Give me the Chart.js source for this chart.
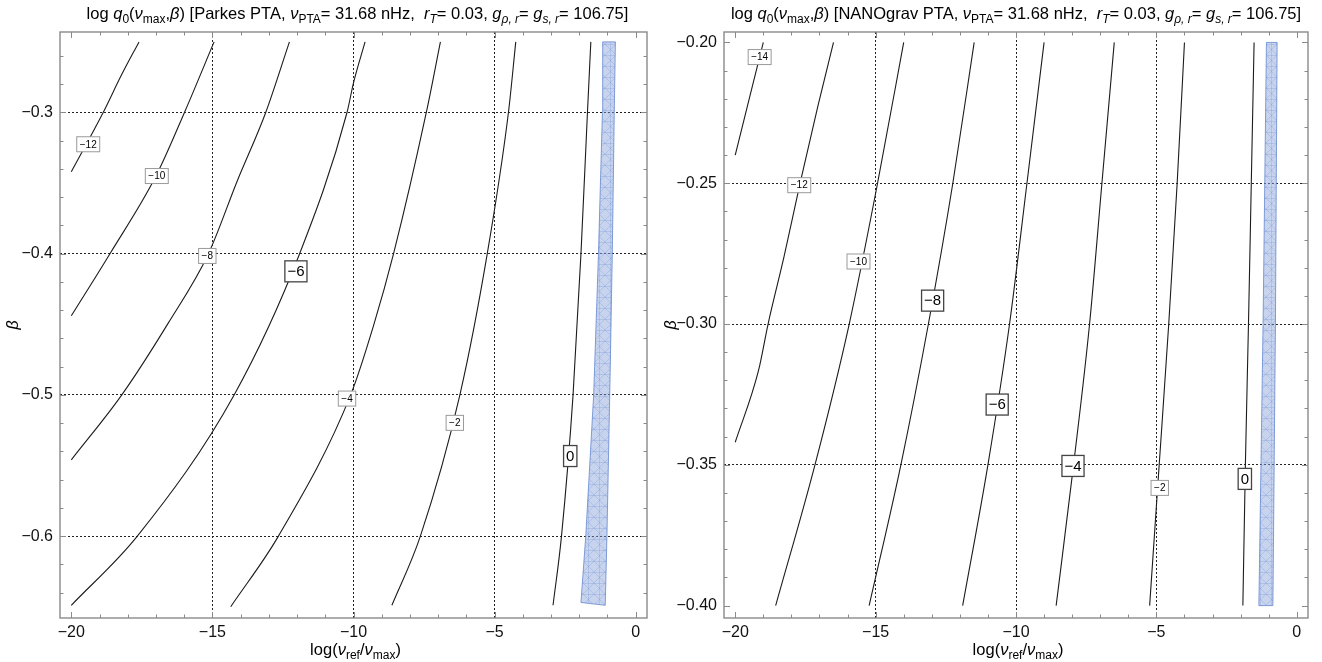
<!DOCTYPE html>
<html>
<head>
<meta charset="utf-8">
<script src="https://cdn.jsdelivr.net/npm/chart.js@4.4.1/dist/chart.umd.min.js"></script>
<style>
    html, body { margin: 0; padding: 0; background: #fff; }
    .panel { position: absolute; top: 0; width: 661px; height: 662px; }
    #left { left: 0; }
    #right { left: 661px; }
</style>
</head>
<body>
<div class="panel" id="left"><canvas id="parkes"></canvas></div>
<div class="panel" id="right"><canvas id="nanograv"></canvas></div>
<script>
// values, points are [log(vref/vmax), beta]
var xTicks = [-20, -15, -10, -5, 0];
var xGrid = [-15, -10, -5];

// Parkes PTA panel
var parkesYTicks = [-0.6, -0.5, -0.4, -0.3];
var parkesYGrid = [-0.6, -0.5, -0.4, -0.3];
var parkesLevels = [-12, -10, -8, -6, -4, -2, 0];
var parkesM12 = [[-20, -0.342], [-18.87, -0.3], [-18.21, -0.273], [-17.6, -0.25]];
var parkesM10 = [[-20, -0.444], [-18.63, -0.4], [-17.0, -0.345], [-15.99, -0.3], [-14.94, -0.25]];
var parkesM8 = [[-20, -0.546], [-18.21, -0.5], [-16.56, -0.449], [-15.14, -0.4], [-14.13, -0.349], [-13.11, -0.3], [-12.27, -0.25]];
var parkesM6 = [[-20, -0.649], [-17.66, -0.6], [-14.23, -0.5], [-11.91, -0.4], [-10.23, -0.3], [-10.0, -0.279], [-9.59, -0.25]];
var parkesM4 = [[-14.35, -0.65], [-12.66, -0.6], [-10.1, -0.5], [-9.29, -0.451], [-8.58, -0.4], [-7.42, -0.3], [-6.92, -0.25]];
var parkesM2 = [[-8.64, -0.649], [-7.63, -0.6], [-6.23, -0.5], [-5.26, -0.4], [-4.51, -0.3], [-4.25, -0.25]];
var parkesZero = [[-2.93, -0.649], [-2.63, -0.6], [-2.22, -0.5], [-1.94, -0.4], [-1.71, -0.3], [-1.59, -0.25]];
var parkesBand = [[-1.17, -0.25], [-0.72, -0.25], [-0.76, -0.3], [-0.83, -0.4], [-0.92, -0.5], [-1.02, -0.6], [-1.08, -0.649],
                  [-1.94, -0.647], [-1.77, -0.6], [-1.49, -0.5], [-1.32, -0.4], [-1.18, -0.3], [-1.17, -0.25]];
var parkesLabelX = [-19.4, -16.97, -15.18, -12.04, -10.23, -6.41, -2.32];
var parkesLabelY = [-0.3225, -0.345, -0.4016, -0.4125, -0.5026, -0.5198, -0.5433];

// NANOGrav PTA panel
var nanoYTicks = [-0.40, -0.35, -0.30, -0.25, -0.20];
var nanoYGrid = [-0.35, -0.30, -0.25];
var nanoLevels = [-14, -12, -10, -8, -6, -4, -2, 0];
var nanoM14 = [[-20, -0.24], [-19.5, -0.22], [-19.0, -0.2]];
var nanoM12 = [[-20, -0.342], [-19.17, -0.3165], [-18.83, -0.30], [-18.26, -0.276], [-17.69, -0.25], [-17.05, -0.2224], [-16.5, -0.2]];
var nanoM10 = [[-18.56, -0.40], [-17.16, -0.35], [-15.94, -0.30], [-14.93, -0.25], [-14.0, -0.20]];
var nanoM8 = [[-15.23, -0.40], [-14.10, -0.35], [-13.12, -0.30], [-12.25, -0.25], [-11.49, -0.20]];
var nanoM6 = [[-11.90, -0.40], [-11.0, -0.35], [-10.23, -0.30], [-9.61, -0.25], [-9.0, -0.20]];
var nanoM4 = [[-8.57, -0.40], [-7.95, -0.35], [-7.38, -0.30], [-6.94, -0.25], [-6.50, -0.20]];
var nanoM2 = [[-5.24, -0.40], [-4.90, -0.35], [-4.56, -0.30], [-4.26, -0.25], [-4.0, -0.20]];
var nanoZero = [[-1.92, -0.40], [-1.83, -0.35], [-1.72, -0.30], [-1.62, -0.25], [-1.52, -0.20]];
var nanoBand = [[-1.08, -0.2], [-0.70, -0.2], [-0.76, -0.3], [-0.85, -0.4], [-1.35, -0.4], [-1.20, -0.3], [-1.08, -0.2]];
var nanoLabelX = [-19.13, -17.72, -15.61, -12.97, -10.67, -7.97, -4.88, -1.85];
var nanoLabelY = [-0.2052, -0.2507, -0.2778, -0.2917, -0.3286, -0.3504, -0.3582, -0.355];

var FONT = '"Liberation Sans", Arial, sans-serif';

function segFont(seg, size) {
    var st = seg[1] || '';
    var sz = st.indexOf('s') >= 0 ? Math.round(size * 0.7) : size;
    return (st.indexOf('i') >= 0 ? 'italic ' : '') + sz + 'px ' + FONT;
}

// draws text made of [text, style] pieces, style: i = italic, s = subscript
function drawRich(ctx, segs, x, y, size) {
    var total = 0;
    segs.forEach(function (s) {
        ctx.font = segFont(s, size);
        total += ctx.measureText(s[0]).width;
    });
    var cx = x - total / 2;
    ctx.textAlign = 'left';
    ctx.textBaseline = 'alphabetic';
    segs.forEach(function (s) {
        ctx.font = segFont(s, size);
        var dy = (s[1] || '').indexOf('s') >= 0 ? size * 0.27 : 0;
        ctx.fillText(s[0], cx, y + dy);
        cx += ctx.measureText(s[0]).width;
    });
}

function range(lo, hi, step) {
    var out = [];
    for (var v = lo; v <= hi + step / 10; v += step) out.push(Math.round(v * 1000) / 1000);
    return out;
}

function makeMesh() {
    var n = 11;
    var c = document.createElement('canvas');
    c.width = n;
    c.height = n;
    var g = c.getContext('2d');
    g.fillStyle = 'rgba(132,160,214,0.45)';
    g.fillRect(0, 0, n, n);
    g.strokeStyle = 'rgba(100,136,210,0.35)';
    g.lineWidth = 0.7;
    g.beginPath();
    g.moveTo(0, 0); g.lineTo(n, n);
    g.moveTo(n, 0); g.lineTo(0, n);
    g.moveTo(0, 0.5); g.lineTo(n, 0.5);
    g.moveTo(n / 2, 0); g.lineTo(n / 2, n);
    g.stroke();
    return g.createPattern(c, 'repeat');
}

var decorPlugin = {
    id: 'decor',
    afterDatasetsDraw: function (chart, args, opts) {
        var ctx = chart.ctx, xs = chart.scales.x, ys = chart.scales.y;
        ctx.save();
        opts.labelX.forEach(function (lx, i) {
            var level = opts.levels[i];
            var big = opts.big.indexOf(level) >= 0;
            var txt = level === 0 ? '0' : '\u2212' + Math.abs(level);
            var px = xs.getPixelForValue(lx), py = ys.getPixelForValue(opts.labelY[i]);
            ctx.font = (big ? 15 : 10) + 'px ' + FONT;
            var w = ctx.measureText(txt).width + (big ? 5 : 6);
            var h = big ? 21 : 15;
            ctx.fillStyle = '#fff';
            ctx.fillRect(px - w / 2, py - h / 2, w, h);
            ctx.lineWidth = big ? 1.3 : 1;
            ctx.strokeStyle = big ? '#444' : '#9a9a9a';
            ctx.strokeRect(px - w / 2, py - h / 2, w, h);
            ctx.fillStyle = '#000';
            ctx.textAlign = 'center';
            ctx.textBaseline = 'middle';
            ctx.fillText(txt, px, py + 0.5);
        });
        ctx.restore();
    },
    afterDraw: function (chart, args, opts) {
        var ctx = chart.ctx, a = chart.chartArea, xs = chart.scales.x, ys = chart.scales.y;
        ctx.save();
        // inward ticks on all four sides
        ctx.strokeStyle = '#8a8a8a';
        ctx.lineWidth = 1;
        ctx.beginPath();
        var tick = function (scale, values, len, horiz) {
            values.forEach(function (v) {
                var p = Math.round(scale.getPixelForValue(v)) + 0.5;
                if (horiz) {
                    ctx.moveTo(p, a.bottom); ctx.lineTo(p, a.bottom - len);
                    ctx.moveTo(p, a.top); ctx.lineTo(p, a.top + len);
                } else {
                    ctx.moveTo(a.left, p); ctx.lineTo(a.left + len, p);
                    ctx.moveTo(a.right, p); ctx.lineTo(a.right - len, p);
                }
            });
        };
        tick(xs, xTicks, 6, true);
        tick(xs, range(-20, 0, 1), 3.5, true);
        tick(ys, opts.yTicks, 6, false);
        tick(ys, range(opts.minorY[0], opts.minorY[1], opts.minorY[2]), 3.5, false);
        ctx.stroke();
        // frame
        ctx.strokeStyle = '#8a8a8a';
        ctx.lineWidth = 1.4;
        ctx.strokeRect(a.left, a.top, a.right - a.left, a.bottom - a.top);
        // titles
        ctx.fillStyle = '#000';
        var cx = (a.left + a.right) / 2;
        drawRich(ctx, opts.title, cx + opts.titleShift, 19, 16.5);
        drawRich(ctx, [['log('], ['\u03bd', 'i'], ['ref', 's'], ['/'], ['\u03bd', 'i'], ['max', 's'], [')']], cx + 2, 655, 16.5);
        ctx.translate(opts.betaX, (a.top + a.bottom) / 2);
        ctx.rotate(-Math.PI / 2);
        drawRich(ctx, [['\u03b2', 'i']], 0, 5, 16);
        ctx.restore();
    }
};

function fmtTick(digits) {
    return function (v) {
        var s = Number(v) === 0 ? '0' : Number(v).toFixed(digits);
        return s.replace('-', '\u2212');
    };
}

function makePanel(id, cfg) {
    var datasets = cfg.contours.map(function (c) {
        return {
            data: c.map(function (p) { return { x: p[0], y: p[1] }; }),
            showLine: true,
            borderColor: '#1c1c1c',
            borderWidth: 1.1,
            pointRadius: 0,
            fill: false,
            cubicInterpolationMode: 'monotone'
        };
    });
    datasets.unshift({
        data: cfg.band.map(function (p) { return { x: p[0], y: p[1] }; }),
        showLine: true,
        borderColor: 'rgba(100,135,208,0.8)',
        borderWidth: 1,
        backgroundColor: makeMesh(),
        fill: 'shape',
        pointRadius: 0,
        tension: 0
    });

    var tickFont = { family: FONT, size: 16 };
    return new Chart(document.getElementById(id), {
        type: 'scatter',
        data: { datasets: datasets },
        plugins: [decorPlugin],
        options: {
            responsive: true,
            maintainAspectRatio: false,
            animation: false,
            events: [],
            layout: { padding: { top: 32, right: 14, left: 0, bottom: 0 } },
            plugins: {
                legend: { display: false },
                tooltip: { enabled: false },
                decor: {
                    levels: cfg.levels,
                    labelX: cfg.labelX,
                    labelY: cfg.labelY,
                    big: cfg.big,
                    yTicks: cfg.yTicks,
                    minorY: cfg.minorY,
                    title: cfg.title,
                    titleShift: cfg.titleShift,
                    betaX: cfg.betaX
                }
            },
            scales: {
                x: {
                    type: 'linear',
                    min: -20.4,
                    max: 0.4,
                    afterBuildTicks: function (axis) {
                        axis.ticks = xTicks.map(function (v) { return { value: v }; });
                    },
                    afterFit: function (axis) { axis.height = 44; },
                    ticks: { callback: fmtTick(0), font: tickFont, color: '#111', padding: 5, autoSkip: false, maxRotation: 0 },
                    grid: {
                        drawTicks: false,
                        lineWidth: 1,
                        color: function (c) {
                            return c.tick && xGrid.indexOf(c.tick.value) >= 0 ? '#222' : 'rgba(0,0,0,0)';
                        }
                    },
                    border: { display: false, dash: [2, 2] }
                },
                y: {
                    type: 'linear',
                    min: cfg.yMin,
                    max: cfg.yMax,
                    afterBuildTicks: function (axis) {
                        axis.ticks = cfg.yTicks.map(function (v) { return { value: v }; });
                    },
                    afterFit: function (axis) { axis.width = cfg.yWidth; },
                    ticks: { callback: fmtTick(cfg.digits), font: tickFont, color: '#111', padding: 7, autoSkip: false },
                    grid: {
                        drawTicks: false,
                        lineWidth: 1,
                        color: function (c) {
                            return c.tick && cfg.yGrid.indexOf(c.tick.value) >= 0 ? '#222' : 'rgba(0,0,0,0)';
                        }
                    },
                    border: { display: false, dash: [2, 2] }
                }
            }
        }
    });
}

var parkesChart = makePanel('parkes', {
    contours: [parkesM12, parkesM10, parkesM8, parkesM6, parkesM4, parkesM2, parkesZero],
    band: parkesBand,
    levels: parkesLevels,
    labelX: parkesLabelX,
    labelY: parkesLabelY,
    big: [-6, 0],
    yTicks: parkesYTicks,
    yGrid: parkesYGrid,
    yMin: -0.658,
    yMax: -0.243,
    minorY: [-0.64, -0.26, 0.02],
    digits: 1,
    yWidth: 60,
    betaX: 13,
    titleShift: 4,
    title: [['log '], ['q', 'i'], ['0', 's'], ['('], ['\u03bd', 'i'], ['max', 's'], [','], ['\u03b2', 'i'],
            [') [Parkes PTA, '], ['\u03bd', 'i'], ['PTA', 's'], ['= 31.68 nHz,  '], ['r', 'i'], ['T', 'is'],
            ['= 0.03, '], ['g', 'i'], ['\u03c1, r', 'is'], ['= '], ['g', 'i'], ['s, r', 'is'], ['= 106.75]']]
});

var nanoChart = makePanel('nanograv', {
    contours: [nanoM14, nanoM12, nanoM10, nanoM8, nanoM6, nanoM4, nanoM2, nanoZero],
    band: nanoBand,
    levels: nanoLevels,
    labelX: nanoLabelX,
    labelY: nanoLabelY,
    big: [-8, -6, -4, 0],
    yTicks: nanoYTicks,
    yGrid: nanoYGrid,
    yMin: -0.4044,
    yMax: -0.1963,
    minorY: [-0.40, -0.20, 0.01],
    digits: 2,
    yWidth: 63,
    betaX: 10,
    titleShift: 0,
    title: [['log '], ['q', 'i'], ['0', 's'], ['('], ['\u03bd', 'i'], ['max', 's'], [','], ['\u03b2', 'i'],
            [') [NANOgrav PTA, '], ['\u03bd', 'i'], ['PTA', 's'], ['= 31.68 nHz,  '], ['r', 'i'], ['T', 'is'],
            ['= 0.03, '], ['g', 'i'], ['\u03c1, r', 'is'], ['= '], ['g', 'i'], ['s, r', 'is'], ['= 106.75]']]
});
</script>
</body>
</html>
